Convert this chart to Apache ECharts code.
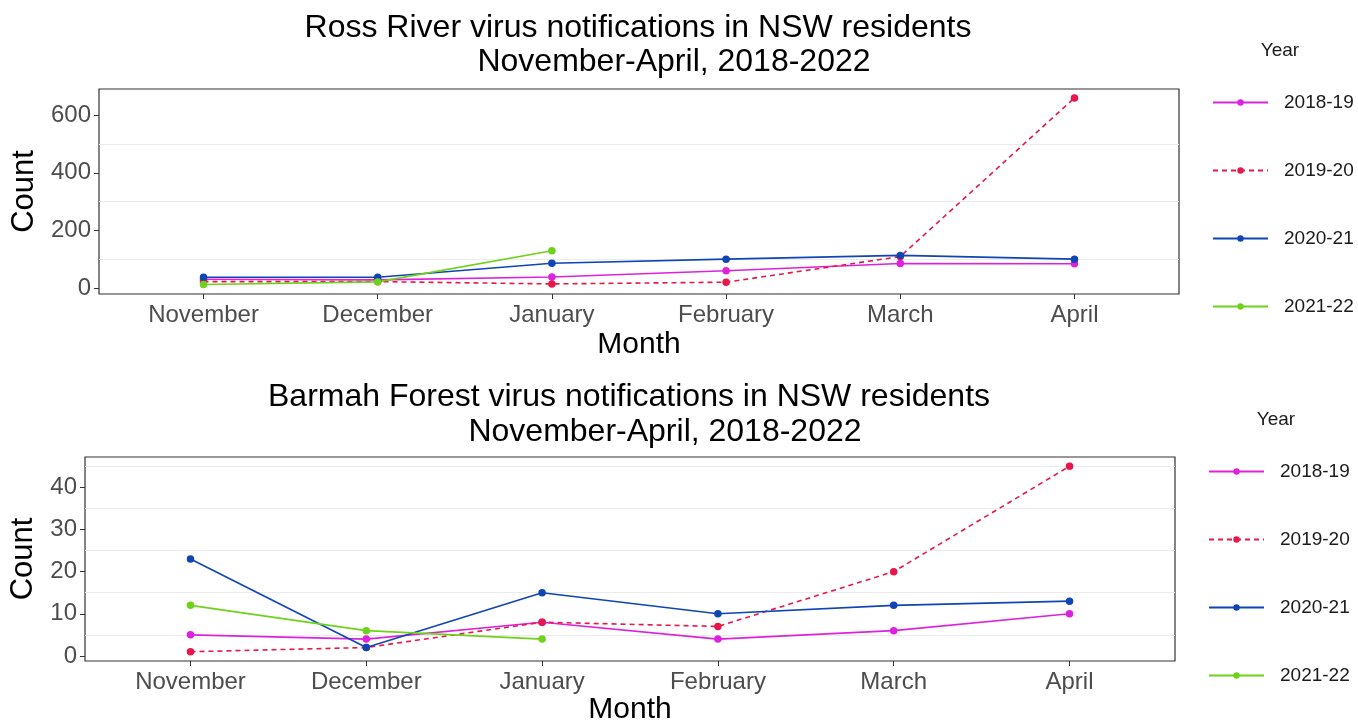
<!DOCTYPE html>
<html>
<head>
<meta charset="utf-8">
<title>Ross River / Barmah Forest notifications</title>
<script src="https://cdn.jsdelivr.net/npm/echarts@6/dist/echarts.min.js"></script>
<style>
    html, body { margin: 0; padding: 0; background: #fff; }
    #main { width: 1358px; height: 726px; }
</style>
</head>
<body>
<div id="main"></div>
<script>
    // data
    var months = ['November', 'December', 'January', 'February', 'March', 'April'];
    var years = ['2018-19', '2019-20', '2020-21', '2021-22'];
    var colors = ['#DD22DD', '#E8174A', '#0F45B5', '#6FD21A'];

    var rossRiver = {
        '2018-19': [30, 28, 38, 60, 85, 84],
        '2019-20': [22, 22, 14, 20, 109, 660],
        '2020-21': [37, 37, 86, 100, 113, 100],
        '2021-22': [12, 21, 129]
    };
    var barmahForest = {
        '2018-19': [5, 4, 8, 4, 6, 10],
        '2019-20': [1, 2, 8, 7, 20, 45],
        '2020-21': [23, 2, 15, 10, 12, 13],
        '2021-22': [12, 6, 4]
    };

    var rrTicks = [0, 200, 400, 600];
    var rrGrid = [100, 300, 500];
    var bfTicks = [0, 10, 20, 30, 40];
    var bfGrid = [5, 15, 25, 35, 45];
    var monthIdx = [0, 1, 2, 3, 4, 5];

    var font = '"Liberation Sans", Arial, sans-serif';
    var dom = document.getElementById('main');
    var myChart = echarts.init(dom);

    function toPoints(arr) {
        return arr.map(function (v, i) { return [i, v]; });
    }

    function xAxisFor(gi, nameGap) {
        return {
            type: 'value', gridIndex: gi, min: -0.6, max: 5.6,
            name: 'Month', nameLocation: 'middle', nameGap: nameGap,
            nameTextStyle: { fontFamily: font, fontSize: 30, color: '#000' },
            axisLine: { show: false, onZero: false },
            axisTick: { show: true, length: 5, customValues: monthIdx, lineStyle: { color: '#333' } },
            axisLabel: {
                customValues: monthIdx, margin: 9,
                fontFamily: font, fontSize: 24, color: '#4d4d4d',
                formatter: function (v) { return months[Math.round(v)]; }
            },
            splitLine: { show: false }
        };
    }

    function yAxisFor(gi, min, max, ticks, nameGap) {
        return {
            type: 'value', gridIndex: gi, min: min, max: max,
            name: 'Count', nameLocation: 'middle', nameGap: nameGap,
            nameTextStyle: { fontFamily: font, fontSize: 31, color: '#000' },
            axisLine: { show: false, onZero: false },
            axisTick: { show: true, length: 5, customValues: ticks, lineStyle: { color: '#333' } },
            axisLabel: { customValues: ticks, margin: 8, fontFamily: font, fontSize: 24, color: '#4d4d4d' },
            splitLine: { show: false }
        };
    }

    function gridAxisFor(gi, min, max, lines) {
        return {
            type: 'value', gridIndex: gi, min: min, max: max, z: 0,
            axisLine: { show: false, onZero: false },
            axisTick: { show: false, customValues: lines },
            axisLabel: { show: false, customValues: lines },
            splitLine: { show: true, lineStyle: { color: '#EBEBEB', width: 1.2 } }
        };
    }

    var series = [];
    [rossRiver, barmahForest].forEach(function (set, gi) {
        years.forEach(function (y, k) {
            series.push({
                name: y,
                type: 'line',
                xAxisIndex: gi,
                yAxisIndex: gi,
                data: toPoints(set[y]),
                symbol: 'circle',
                symbolSize: 7.5,
                color: colors[k],
                lineStyle: { width: 1.6, type: k === 1 ? [5, 4] : 'solid' },
                itemStyle: { color: colors[k] },
                emphasis: { disabled: true },
                animation: false
            });
        });
    });

    function legendFor(left, top) {
        return {
            data: years, orient: 'vertical', left: left, top: top, padding: 0,
            itemWidth: 55, itemHeight: 8, itemGap: 49,
            textStyle: { fontFamily: font, fontSize: 19, color: '#1a1a1a', padding: [0, 0, 0, 11] }
        };
    }

    function text(t, x, y, size, color) {
        return {
            type: 'text', x: x, y: y,
            style: { text: t, fill: color || '#000', font: size + 'px ' + font, align: 'center', verticalAlign: 'middle' }
        };
    }

    option = {
        animation: false,
        grid: [
            { left: 99, right: 179, top: 89, bottom: 432, show: true, borderColor: '#333', borderWidth: 1.2, backgroundColor: '#fff' },
            { left: 85, right: 183, top: 457, bottom: 64, show: true, borderColor: '#333', borderWidth: 1.2, backgroundColor: '#fff' }
        ],
        xAxis: [xAxisFor(0, 36), xAxisFor(1, 34)],
        yAxis: [
            yAxisFor(0, -21, 691, rrTicks, 58),
            yAxisFor(1, -1.2, 47.2, bfTicks, 45),
            gridAxisFor(0, -21, 691, rrGrid),
            gridAxisFor(1, -1.2, 47.2, bfGrid)
        ],
        legend: [legendFor(1212, 93), legendFor(1208, 462)],
        graphic: [
            text('Ross River virus notifications in NSW residents', 638, 28, 32),
            text('November-April, 2018-2022', 674, 62, 32),
            text('Barmah Forest virus notifications in NSW residents', 629, 397, 32),
            text('November-April, 2018-2022', 665, 432, 32),
            text('Year', 1280, 51, 19, '#1a1a1a'),
            text('Year', 1276, 420, 19, '#1a1a1a')
        ],
        series: series
    };

    if (option && typeof option === "object") {
        myChart.setOption(option, true);
    }
</script>
</body>
</html>
